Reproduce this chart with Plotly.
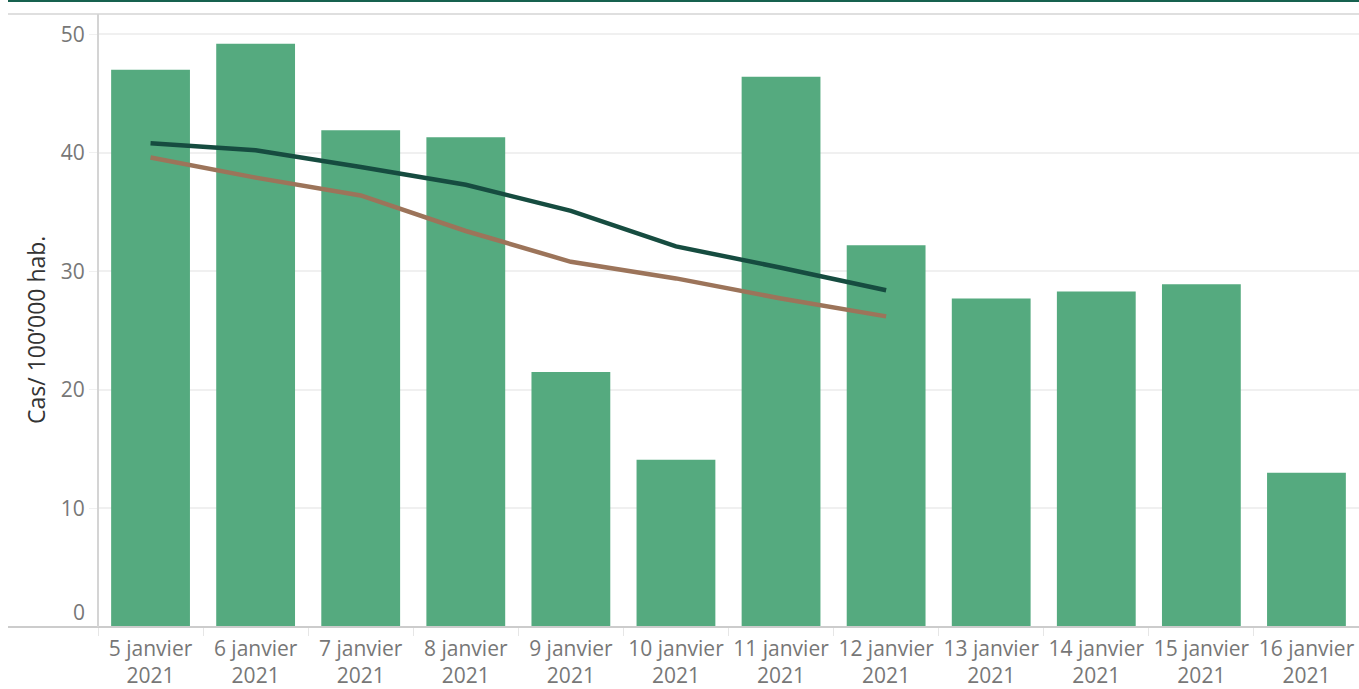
import plotly.graph_objects as go

categories = ["5 janvier 2021", "6 janvier 2021", "7 janvier 2021", "8 janvier 2021",
              "9 janvier 2021", "10 janvier 2021", "11 janvier 2021", "12 janvier 2021",
              "13 janvier 2021", "14 janvier 2021", "15 janvier 2021", "16 janvier 2021"]
tick_labels = ["5 janvier<br>2021", "6 janvier<br>2021", "7 janvier<br>2021", "8 janvier<br>2021",
               "9 janvier<br>2021", "10 janvier<br>2021", "11 janvier<br>2021", "12 janvier<br>2021",
               "13 janvier<br>2021", "14 janvier<br>2021", "15 janvier<br>2021", "16 janvier<br>2021"]
daily_cases = [47.0, 49.2, 41.9, 41.3, 21.5, 14.1, 46.4, 32.2, 27.7, 28.3, 28.9, 13.0]
avg_dark = [40.8, 40.2, 38.8, 37.3, 35.1, 32.1, 30.3, 28.4]
avg_brown = [39.6, 37.9, 36.4, 33.4, 30.8, 29.4, 27.7, 26.2]
y_ticks = [0, 10, 20, 30, 40, 50]
y_tick_text = ["", "10", "20", "30", "40", "50"]

W, H = 1359, 689
L, R, T, B = 98, 0, 14, 62
PW = W - L - R
PH = H - T - B
FONT = "'Open Sans', 'Noto Sans', sans-serif"

fig = go.Figure()
fig.add_trace(go.Bar(x=categories, y=daily_cases, marker=dict(color="#55aa7f", line=dict(width=0)),
                     width=0.75, showlegend=False))
fig.add_trace(go.Scatter(x=categories[:len(avg_brown)], y=avg_brown, mode="lines",
                         line=dict(color="#9c745a", width=4.5), showlegend=False))
fig.add_trace(go.Scatter(x=categories[:len(avg_dark)], y=avg_dark, mode="lines",
                         line=dict(color="#164c40", width=4.5), showlegend=False))

fig.update_layout(
    width=W, height=H,
    margin=dict(l=L, r=R, t=T, b=B, pad=0),
    paper_bgcolor="white", plot_bgcolor="white",
    font=dict(family=FONT, color="#777777", size=21),
    bargap=0.25,
    xaxis=dict(
        type="category", tickmode="array", tickvals=categories, ticktext=tick_labels,
        ticks="outside", tickson="boundaries", ticklen=8, tickcolor="#e6e6e6",
        ticklabelstandoff=7,
        showline=False, showgrid=False, zeroline=False,
        tickfont=dict(family=FONT, size=21, color="#777777"),
        range=[-0.5, len(categories) - 0.5],
    ),
    yaxis=dict(
        range=[0, 51.7], tickmode="array", tickvals=y_ticks, ticktext=y_tick_text,
        ticks="outside", ticklen=8, tickcolor="#f0f0f0",
        showgrid=True, gridcolor="#f0f0f0", gridwidth=1.5,
        zeroline=False, showline=False,
        tickfont=dict(family=FONT, size=21, color="#777777"),
    ),
)

# y label for 0 (drawn slightly above baseline)
fig.add_annotation(text="0", xref="paper", yref="y", x=(87 - L) / PW, y=0, xanchor="right",
                   yanchor="bottom", yshift=-1, showarrow=False,
                   font=dict(family=FONT, size=21, color="#777777"))
# y axis title
fig.add_annotation(text="Cas/ 100’000 hab.", xref="paper", yref="paper", x=(36 - L) / PW,
                   y=(627 - 330) / PH, textangle=-90, showarrow=False,
                   xanchor="center", yanchor="middle",
                   font=dict(family=FONT, size=23, color="#333333"))

# frame lines
x_left = (8 - L) / PW
fig.add_shape(type="line", xref="paper", yref="paper", x0=x_left, x1=1, y0=0, y1=0,
              line=dict(color="#cccccc", width=2))
fig.add_shape(type="line", xref="paper", yref="paper", x0=x_left, x1=1, y0=1, y1=1,
              line=dict(color="#d4d4d4", width=1.5))
fig.add_shape(type="line", xref="paper", yref="paper", x0=0, x1=0, y0=0, y1=1,
              line=dict(color="#d4d4d4", width=2))
fig.add_shape(type="line", xref="paper", yref="paper", x0=x_left, x1=1,
              y0=(627 - 1) / PH, y1=(627 - 1) / PH,
              line=dict(color="#17614f", width=2))

fig.write_html("out.html", config={"displayModeBar": False},
               post_script="document.body.style.margin='0px';")
